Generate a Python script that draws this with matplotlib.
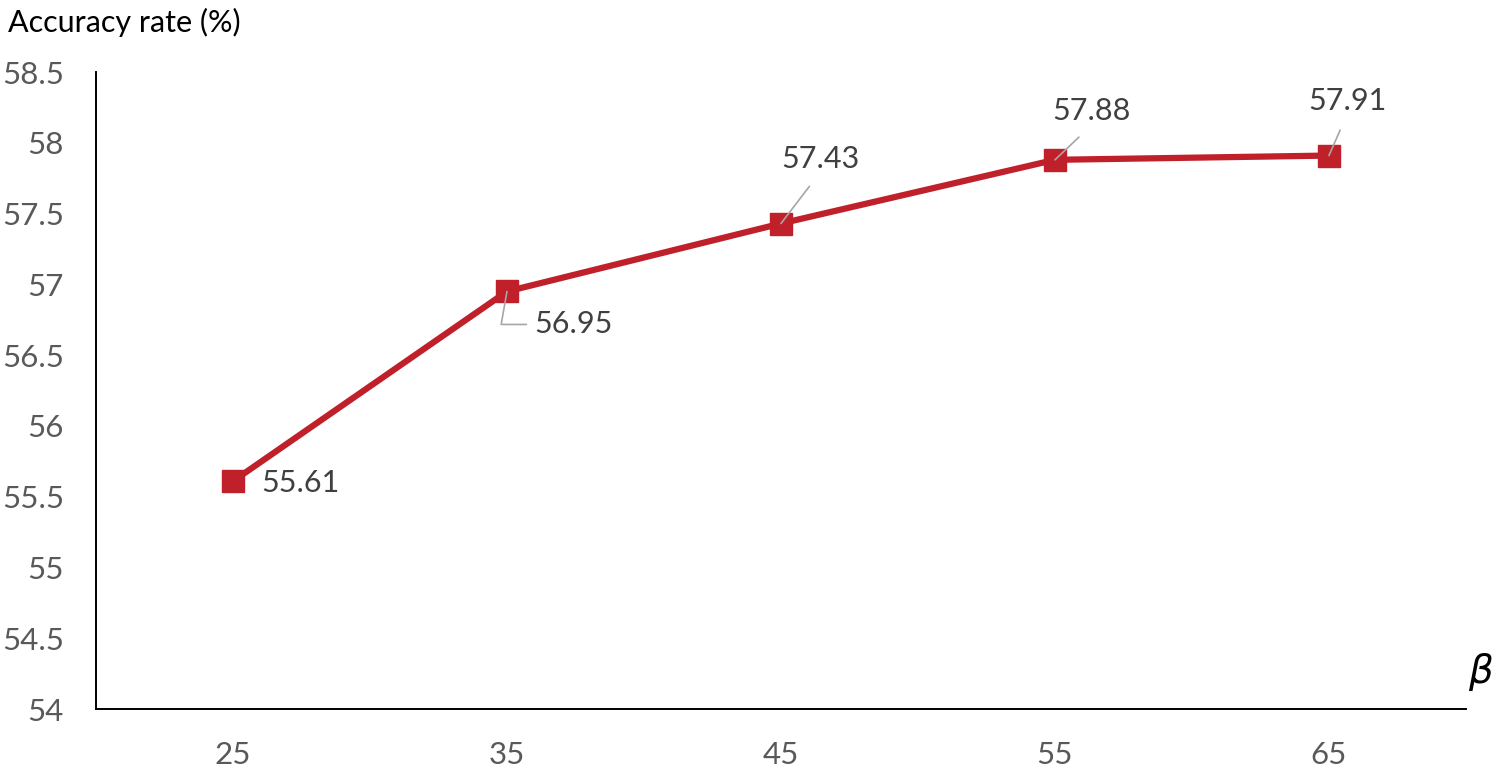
import matplotlib
matplotlib.use("Agg")
import matplotlib.pyplot as plt

categories = ["25", "35", "45", "55", "65"]
accuracy = [55.61, 56.95, 57.43, 57.88, 57.91]
y_ticks = [54, 54.5, 55, 55.5, 56, 56.5, 57, 57.5, 58, 58.5]
y_tick_labels = ["54", "54.5", "55", "55.5", "56", "56.5", "57", "57.5", "58", "58.5"]

plt.rcParams['font.family'] = ['Lato', 'DejaVu Sans']

fig = plt.figure(figsize=(15, 7.69), dpi=100)
ax = fig.add_axes([0.064, 0.078, 0.9133, 0.8283])

x = list(range(len(categories)))
red = "#C0202A"
ax.plot(x, accuracy, color=red, lw=4.5, marker='s', markersize=16,
        markerfacecolor=red, markeredgecolor=red, zorder=3)

ax.set_xlim(-0.5, len(categories) - 0.5)
ax.set_ylim(54, 58.5)
ax.set_xticks(x)
ax.set_xticklabels(categories)
ax.set_yticks(y_ticks)
ax.set_yticklabels(y_tick_labels)
ax.tick_params(axis='both', length=0, labelsize=22.5, labelcolor="#595959")
ax.tick_params(axis='y', pad=23)
ax.tick_params(axis='x', pad=23)
for s in ['top', 'right']:
    ax.spines[s].set_visible(False)
for s in ['left', 'bottom']:
    ax.spines[s].set_color('black')
    ax.spines[s].set_linewidth(1.4)

lab_color = "#404040"
lead = "#A6A6A6"
# (offset px, relpos, connection)
specs = [
    ((67, -2), None, None),
    ((67, -33), (0, 0.5), "angle,angleA=0,angleB=80,rad=0"),
    ((39, 65), (0.5, 0), "arc3"),
    ((37, 49), (0.5, 0), "arc3"),
    ((18, 55), (0.5, 0), "arc3"),
]
for xi, v, (off, rel, conn) in zip(x, accuracy, specs):
    kw = {}
    if rel is not None:
        kw['arrowprops'] = dict(arrowstyle='-', color=lead, lw=1.2,
                                shrinkA=4 if rel == (0, 0.5) else 10, shrinkB=0,
                                relpos=rel, connectionstyle=conn)
    ax.annotate(f"{v:.2f}", xy=(xi, v), xytext=off, textcoords='offset pixels',
                ha='center', va='center', fontsize=22, color=lab_color, zorder=4, **kw)

fig.text(8 / 1500, 1 - 32 / 769, "Accuracy rate (%)", fontsize=22, color='black',
         ha='left', va='baseline')
fig.text(1481 / 1500, 1 - 672 / 769, r"$\beta$", fontsize=28, color='black',
         ha='center', va='center')

fig.savefig("out.png", dpi=100)
